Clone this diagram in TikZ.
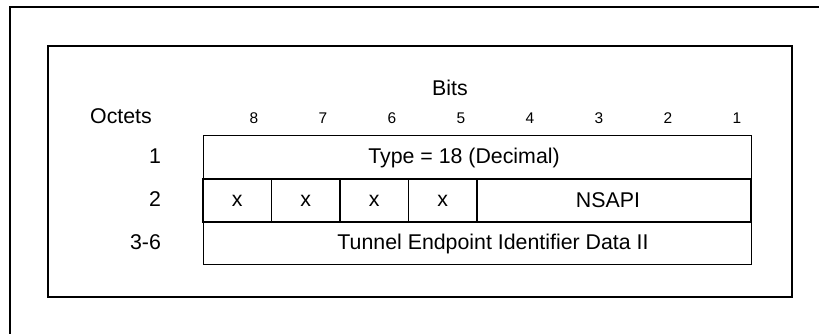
\documentclass[tikz,border=0pt]{standalone}
\usepackage{fontspec}
\setmainfont{Liberation Sans}
\usetikzlibrary{positioning}
\newcommand{\cellw}{51.375pt}
\newcommand{\rowh}{32.25pt}
\tikzset{
    field/.style={draw, line width=0.75pt, minimum height=\rowh, inner sep=0pt, outer sep=0pt,
      font=\fontsize{16}{19}\selectfont},
    flag/.append style={field, minimum width=\cellw, line width=1.1pt},
    bitnum/.style={font=\fontsize{11.6}{13}\selectfont, anchor=base},
    heading/.style={font=\fontsize{16}{19}\selectfont, anchor=base},
    frame/.style={line width=1.5pt},
}
\begin{document}
\begin{tikzpicture}[x=0.75pt, y=-0.75pt]
    \useasboundingbox (0,0) rectangle (819,334);

    % frames
    \draw[frame] (10,334) -- (10,7) -- (819,7);
    \draw[frame] (48,46) rectangle (792,297);

    % octet 1
    \node[field, minimum width=8*\cellw, anchor=north west] (type) at (203,136) {Type = 18 (Decimal)\hspace*{19.5pt}};

    % octet 2
    \node[flag, below right=0pt and 0pt of type.south west] (x8) {x};
    \node[flag, right=0pt of x8] (x7) {x};
    \node[flag, right=0pt of x7] (x6) {x};
    \node[flag, right=0pt of x6] (x5) {x};
    \node[flag, minimum width=4*\cellw, right=0pt of x5] (nsapi) {NSAPI\hspace*{9pt}};

    % octets 3-6
    \node[field, minimum width=8*\cellw, below right=0pt and 0pt of x8.south west] (teid) {\hspace*{24pt}Tunnel Endpoint Identifier Data II};

    % headings
    \node[heading] (bits) at (450,95.5) {Bits};
    \node[heading] (octets) at (121,124) {Octets};
    \foreach \b [count=\i] in {8,7,...,1}
      \node[bitnum] (bit\b) at ({254+69*(\i-1)},124) {\b};

    \node[heading, left=28pt of type.base west, anchor=base east] (oct1) {1};
    \node[heading, left=28pt of x8.base west, anchor=base east] (oct2) {2};
    \node[heading, left=28pt of teid.base west, anchor=base east] (oct36) {3-6};
\end{tikzpicture}
\end{document}
